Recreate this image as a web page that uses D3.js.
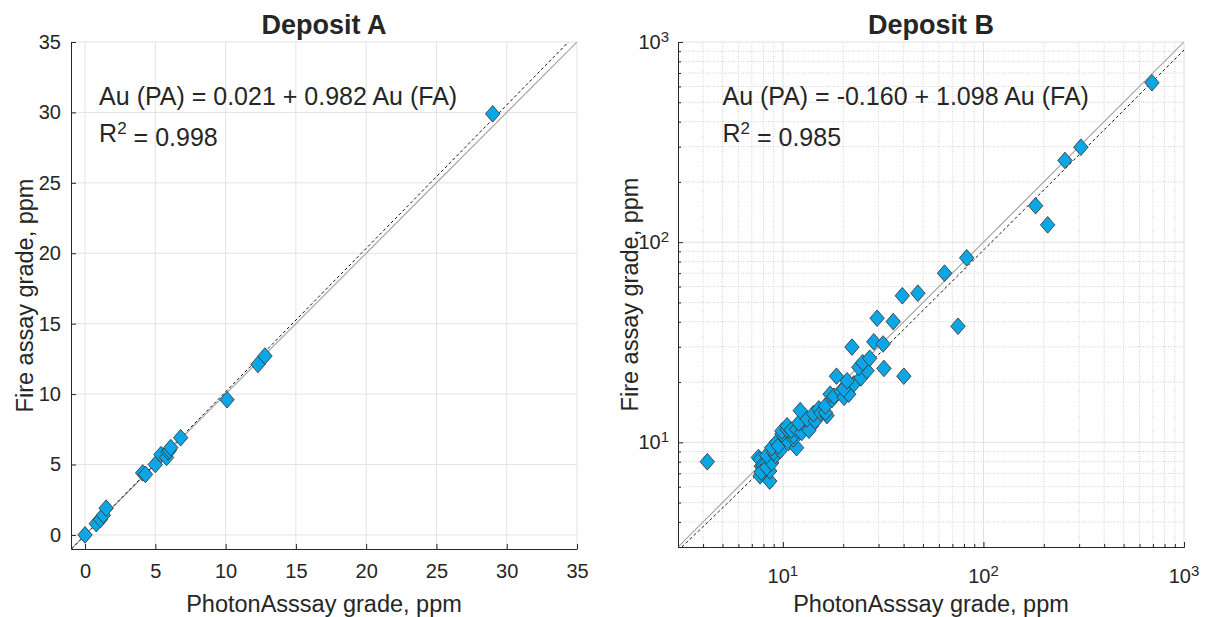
<!DOCTYPE html>
<html>
<head>
<meta charset="utf-8">
<script src="https://cdn.jsdelivr.net/npm/d3@7"></script>
<style>
body { margin: 0; background: #fff; }
text { font-family: "Liberation Sans", Arial, sans-serif; fill: #262626; }
</style>
</head>
<body>
<script>
// Deposit A: PhotonAssay (x) vs fire assay (y), ppm
const paA = [0.0, 0.8, 1.1, 1.3, 1.5, 4.1, 4.3, 5.0, 5.4, 5.8, 5.9, 6.0, 6.1, 6.8, 10.1, 12.3, 12.8, 29.0];
const faA = [0.0, 0.8, 1.1, 1.4, 1.9, 4.4, 4.3, 5.0, 5.7, 5.5, 5.9, 6.0, 6.2, 6.9, 9.6, 12.1, 12.7, 29.9];

// Deposit B
const paB = [4.2, 7.55, 7.7, 7.8, 8.0, 7.7, 7.8, 8.6, 8.6, 8.3, 8.8, 8.3, 9.2, 9.0, 9.7, 8.8, 9.3, 9.5, 10.2, 10.7,
    11.7, 11.3, 11.3, 9.9, 9.9, 10.5, 10.5, 11.0, 11.7, 12.4, 12.7, 12.0, 13.9, 13.5, 13.2, 14.5, 14.2, 12.2, 15.1, 15.5,
    16.6, 16.3, 16.3, 17.6, 17.2, 18.0, 19.5, 20.2, 21.3, 20.1, 22.6, 20.9, 18.5, 24.5, 26.3, 23.9, 25.0, 31.9, 27.1, 40.1,
    22.1, 28.4, 31.6, 29.5, 35.5, 39.4, 47.1, 64, 74.7, 82.5, 182, 209, 255, 306, 692];
const faB = [8.0, 8.4, 8.2, 7.6, 7.6, 6.8, 7.1, 6.4, 7.2, 7.5, 7.9, 8.6, 8.6, 8.9, 9.1, 9.4, 10.0, 9.6, 10.5, 10.0,
    9.4, 10.4, 10.8, 11.0, 11.4, 11.6, 12.1, 11.5, 11.6, 11.2, 12.3, 12.5, 12.1, 11.5, 13.1, 12.8, 13.9, 14.4, 14.7, 14.0,
    13.6, 14.1, 15.2, 16.4, 17.4, 17.0, 18.0, 16.8, 17.4, 18.5, 19.6, 20.3, 21.4, 21.0, 22.8, 23.7, 25.0, 23.4, 26.3, 21.4,
    29.9, 31.8, 31.0, 41.7, 40.1, 54, 55.6, 70, 38, 83.5, 152, 122, 256, 298, 626];

const ticksA = [0, 5, 10, 15, 20, 25, 30, 35];
const ticksB = [10, 100, 1000];
const fitA = [0.021, 0.982];   // Au(PA) = a + b Au(FA)
const fitB = [-0.160, 1.098];
const r2A = "0.998", r2B = "0.985";

const width = 1208, height = 617;
const axisColor = "#262626";
const markFill = "#0aa6e6";

var svg = d3.select("body")
            .append("svg")
            .attr("width", width)
            .attr("height", height);

function diamond(g, xs, ys, xv, yv) {
    g.selectAll("path.pt")
        .data(xv.map((x, i) => [x, yv[i]]))
        .enter()
        .append("path")
        .attr("class", "pt")
        .attr("d", "M0,-8.3L7.2,0L0,8.3L-7.2,0Z")
        .attr("transform", (d) => `translate(${xs(d[0])},${ys(d[1])})`)
        .attr("fill", markFill)
        .attr("stroke", "#3c3c3c")
        .attr("stroke-width", 0.9);
}

function labels(g, x0, x1, y0, y1, title, eq, r2, tx, ty, yLabelX) {
    let cx = (x0 + x1) / 2;
    g.append("text")
        .attr("x", cx).attr("y", 34)
        .attr("text-anchor", "middle")
        .style("font-size", "27px")
        .style("font-weight", "bold")
        .text(title);
    g.append("text")
        .attr("x", cx).attr("y", 612)
        .attr("text-anchor", "middle")
        .style("font-size", "23.5px")
        .text("PhotonAsssay grade, ppm");
    g.append("text")
        .attr("transform", `translate(${yLabelX},${(y0 + y1) / 2}) rotate(-90)`)
        .attr("text-anchor", "middle")
        .attr("dy", "0.35em")
        .style("font-size", "23.5px")
        .text("Fire assay grade, ppm");
    g.append("text")
        .attr("x", tx).attr("y", ty)
        .style("font-size", "25px")
        .text(eq);
    let r = g.append("text")
        .attr("x", tx).attr("y", ty + 37)
        .style("font-size", "25px");
    r.append("tspan").text("R");
    r.append("tspan").attr("dy", "-0.45em").style("font-size", "17px").text("2");
    r.append("tspan").attr("dy", "0.45em").text(" = " + r2);
}

function clip(id, x0, y0, w, h) {
    svg.append("clipPath").attr("id", id)
        .append("rect").attr("x", x0).attr("y", y0).attr("width", w).attr("height", h);
}

// ---------- Deposit A ----------
function drawA() {
    let xA = d3.scaleLinear().domain([-1, 35]).range([71, 577]);
    let yA = d3.scaleLinear().domain([-1, 35]).range([549, 42]);
    let g = svg.append("g");
    clip("clipA", 71, 42, 506, 507);

    g.selectAll("line.gx").data(ticksA).enter().append("line")
        .attr("x1", (d) => xA(d)).attr("x2", (d) => xA(d))
        .attr("y1", yA(-1)).attr("y2", yA(35))
        .attr("stroke", "#e3e3e3");
    g.selectAll("line.gy").data(ticksA).enter().append("line")
        .attr("y1", (d) => yA(d)).attr("y2", (d) => yA(d))
        .attr("x1", xA(-1)).attr("x2", xA(35))
        .attr("stroke", "#e3e3e3");

    let lines = g.append("g").attr("clip-path", "url(#clipA)");
    lines.append("line")
        .attr("x1", xA(-1)).attr("y1", yA(-1))
        .attr("x2", xA(35)).attr("y2", yA(35))
        .attr("stroke", "#a8a8a8").attr("stroke-width", 1.2);
    // fit: x = a + b*y
    lines.append("line")
        .attr("x1", xA(fitA[0] + fitA[1] * -1)).attr("y1", yA(-1))
        .attr("x2", xA(fitA[0] + fitA[1] * 36)).attr("y2", yA(36))
        .attr("stroke", "#111").attr("stroke-width", 1)
        .attr("stroke-dasharray", "3,2.5");

    diamond(g, xA, yA, paA, faA);

    let xAxis = d3.axisBottom(xA).tickValues(ticksA).tickSize(-5).tickPadding(15).tickSizeOuter(0);
    let yAxis = d3.axisLeft(yA).tickValues(ticksA).tickSize(-5).tickPadding(10).tickSizeOuter(0);
    let ax = g.append("g").attr("transform", `translate(0,${yA(-1)})`).call(xAxis);
    let ay = g.append("g").attr("transform", `translate(${xA(-1)},0)`).call(yAxis);
    [ax, ay].forEach((a) => {
        a.select(".domain").attr("stroke", axisColor);
        a.selectAll(".tick line").attr("stroke", axisColor);
        a.selectAll(".tick text").style("font-size", "20px").attr("fill", axisColor).style("font-family", "Liberation Sans, Arial, sans-serif");
    });

    labels(g, 71, 577, 42, 549, "Deposit A", "Au (PA) = 0.021 + 0.982 Au (FA)", r2A, xA(1), 105, 25);
}

// ---------- Deposit B ----------
function drawB() {
    let xB = d3.scaleLog().domain([3, 1000]).range([678, 1184]);
    let yB = d3.scaleLog().domain([3, 1000]).range([547, 42]);
    let g = svg.append("g");
    clip("clipB", 678, 42, 506, 505);

    let all = xB.ticks().filter((d) => d > 3);
    let isMajor = (d) => Math.abs(Math.log10(d) - Math.round(Math.log10(d))) < 1e-9;
    let minor = all.filter((d) => !isMajor(d));

    g.selectAll("line.mx").data(minor).enter().append("line")
        .attr("x1", (d) => xB(d)).attr("x2", (d) => xB(d))
        .attr("y1", yB(3)).attr("y2", yB(1000))
        .attr("stroke", "#d0d0d0").attr("stroke-dasharray", "1,1.5");
    g.selectAll("line.my").data(minor).enter().append("line")
        .attr("y1", (d) => yB(d)).attr("y2", (d) => yB(d))
        .attr("x1", xB(3)).attr("x2", xB(1000))
        .attr("stroke", "#d0d0d0").attr("stroke-dasharray", "1,1.5");
    g.selectAll("line.gx").data(ticksB).enter().append("line")
        .attr("x1", (d) => xB(d)).attr("x2", (d) => xB(d))
        .attr("y1", yB(3)).attr("y2", yB(1000))
        .attr("stroke", "#e0e0e0");
    g.selectAll("line.gy").data(ticksB).enter().append("line")
        .attr("y1", (d) => yB(d)).attr("y2", (d) => yB(d))
        .attr("x1", xB(3)).attr("x2", xB(1000))
        .attr("stroke", "#e0e0e0");

    let lines = g.append("g").attr("clip-path", "url(#clipB)");
    lines.append("line")
        .attr("x1", xB(3)).attr("y1", yB(3))
        .attr("x2", xB(1000)).attr("y2", yB(1000))
        .attr("stroke", "#a8a8a8").attr("stroke-width", 1.2);
    // fit: x = a + b*y, drawn as a curve on log axes
    let fy = d3.range(0, 101).map((i) => 3 * Math.pow(1000 / 3, i / 100));
    lines.append("path")
        .attr("d", d3.line().x((y) => xB(fitB[0] + fitB[1] * y)).y((y) => yB(y))(fy))
        .attr("fill", "none")
        .attr("stroke", "#111").attr("stroke-width", 1)
        .attr("stroke-dasharray", "3,2.5");

    diamond(g, xB, yB, paB, faB);

    let xAxis = d3.axisBottom(xB).tickValues(ticksB).tickSize(-5).tickPadding(14).tickSizeOuter(0).tickFormat("");
    let yAxis = d3.axisLeft(yB).tickValues(ticksB).tickSize(-5).tickPadding(10).tickSizeOuter(0).tickFormat("");
    let xMinor = d3.axisBottom(xB).tickValues(minor).tickSize(-3).tickSizeOuter(0).tickFormat("");
    let yMinor = d3.axisLeft(yB).tickValues(minor).tickSize(-3).tickSizeOuter(0).tickFormat("");
    let ax = g.append("g").attr("transform", `translate(0,${yB(3)})`).call(xAxis);
    let ay = g.append("g").attr("transform", `translate(${xB(3)},0)`).call(yAxis);
    let axm = g.append("g").attr("transform", `translate(0,${yB(3)})`).call(xMinor);
    let aym = g.append("g").attr("transform", `translate(${xB(3)},0)`).call(yMinor);
    [ax, ay, axm, aym].forEach((a) => {
        a.select(".domain").attr("stroke", axisColor);
        a.selectAll(".tick line").attr("stroke", axisColor);
    });

    // power-of-ten tick labels
    ticksB.forEach((t) => {
        let e = Math.round(Math.log10(t));
        let tx = g.append("text")
            .attr("x", xB(t)).attr("y", yB(3) + 36)
            .attr("text-anchor", "middle")
            .style("font-size", "20px");
        tx.append("tspan").text("10");
        tx.append("tspan").attr("dy", "-0.5em").style("font-size", "15px").text(e);
        let ty = g.append("text")
            .attr("x", xB(3) - 9).attr("y", yB(t) + 7)
            .attr("text-anchor", "end")
            .style("font-size", "20px");
        ty.append("tspan").text("10");
        ty.append("tspan").attr("dy", "-0.5em").style("font-size", "15px").text(e);
    });

    labels(g, 678, 1184, 42, 547, "Deposit B", "Au (PA) = -0.160 + 1.098 Au (FA)", r2B, xB(5), 105, 630);
}

drawA();
drawB();
</script>
</body>
</html>
